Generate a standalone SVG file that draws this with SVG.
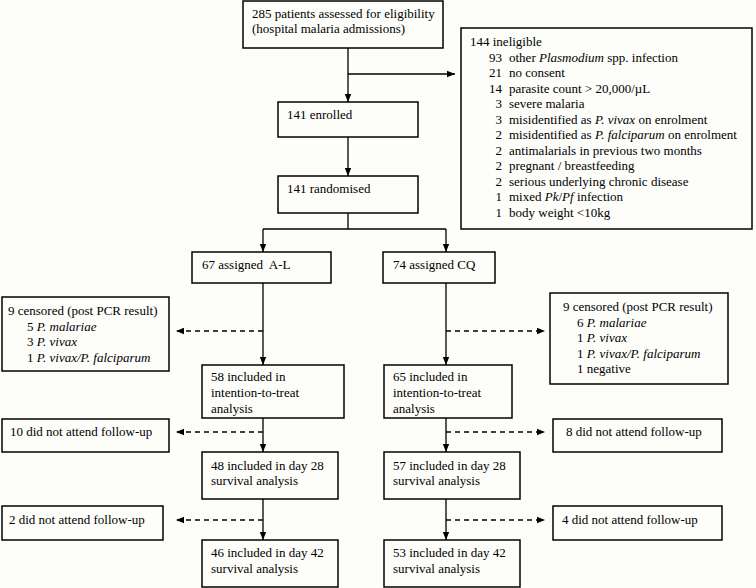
<svg xmlns="http://www.w3.org/2000/svg" width="756" height="588" viewBox="0 0 756 588">
<style>
.box{fill:none;stroke:#000;stroke-width:1.5}
.ln{fill:none;stroke:#000;stroke-width:1.3}
.dash{fill:none;stroke:#000;stroke-width:1.3;stroke-dasharray:5,4}
text{font-family:"Liberation Serif","Times New Roman",serif;font-size:13px;fill:#000}
.i{font-style:italic}
.num{text-anchor:end}
</style>
<defs>
<marker id="ah" markerUnits="userSpaceOnUse" markerWidth="8" markerHeight="8" viewBox="0 0 8 8" refX="8" refY="4" orient="auto">
<path d="M0,0.8 L8,4 L0,7.2 Z" fill="#000"/>
</marker>
</defs>
<rect x="0" y="0" width="756" height="588" fill="#fdfdfa"/>

<g id="connectors">
<path class="ln" d="M348,48 V102" marker-end="url(#ah)"/>
<path class="ln" d="M348,74 H455" marker-end="url(#ah)"/>
<path class="ln" d="M348,137 V176" marker-end="url(#ah)"/>
<path class="ln" d="M348,213 V229 M263,229 H446"/>
<path class="ln" d="M263,229 V252" marker-end="url(#ah)"/>
<path class="ln" d="M446,229 V252" marker-end="url(#ah)"/>
<path class="ln" d="M263,283 V365" marker-end="url(#ah)"/>
<path class="ln" d="M263,418 V452" marker-end="url(#ah)"/>
<path class="ln" d="M263,499 V540" marker-end="url(#ah)"/>
<path class="ln" d="M446,283 V365" marker-end="url(#ah)"/>
<path class="ln" d="M446,418 V452" marker-end="url(#ah)"/>
<path class="ln" d="M446,499 V540" marker-end="url(#ah)"/>
<path class="dash" d="M263,331 H176" marker-end="url(#ah)"/>
<path class="dash" d="M263,432 H176" marker-end="url(#ah)"/>
<path class="dash" d="M263,520 H176" marker-end="url(#ah)"/>
<path class="dash" d="M446,331 H545" marker-end="url(#ah)"/>
<path class="dash" d="M446,432 H545" marker-end="url(#ah)"/>
<path class="dash" d="M446,520 H545" marker-end="url(#ah)"/>
</g>

<g id="assessed">
<rect class="box" x="243" y="1" width="200" height="47"/>
<text x="252" y="18">285 patients assessed for eligibility</text>
<text x="252" y="33">(hospital malaria admissions)</text>
</g>

<g id="ineligible">
<rect class="box" x="461" y="28" width="291" height="201"/>
<text x="470" y="46">144 ineligible</text>
<text class="num" x="502" y="61.5">93</text><text x="509" y="61.5">other <tspan class="i">Plasmodium</tspan> spp. infection</text>
<text class="num" x="502" y="77">21</text><text x="509" y="77">no consent</text>
<text class="num" x="502" y="92.5">14</text><text x="509" y="92.5">parasite count &gt; 20,000/µL</text>
<text class="num" x="502" y="108">3</text><text x="509" y="108">severe malaria</text>
<text class="num" x="502" y="123.5">3</text><text x="509" y="123.5">misidentified as <tspan class="i">P. vivax</tspan> on enrolment</text>
<text class="num" x="502" y="139">2</text><text x="509" y="139">misidentified as <tspan class="i">P. falciparum</tspan> on enrolment</text>
<text class="num" x="502" y="154.5">2</text><text x="509" y="154.5">antimalarials in previous two months</text>
<text class="num" x="502" y="170">2</text><text x="509" y="170">pregnant / breastfeeding</text>
<text class="num" x="502" y="185.5">2</text><text x="509" y="185.5">serious underlying chronic disease</text>
<text class="num" x="502" y="201">1</text><text x="509" y="201">mixed <tspan class="i">Pk</tspan>/<tspan class="i">Pf</tspan> infection</text>
<text class="num" x="502" y="216.5">1</text><text x="509" y="216.5">body weight &lt;10kg</text>
</g>

<g id="enrolled">
<rect class="box" x="278" y="102" width="140" height="35"/>
<text x="287" y="119">141 enrolled</text>
</g>

<g id="randomised">
<rect class="box" x="278" y="176" width="140" height="37"/>
<text x="287" y="193">141 randomised</text>
</g>

<g id="assignedAL">
<rect class="box" x="192" y="252" width="139" height="31"/>
<text x="202" y="269" xml:space="preserve">67 assigned  A-L</text>
</g>

<g id="assignedCQ">
<rect class="box" x="383" y="252" width="112" height="31"/>
<text x="393" y="269">74 assigned CQ</text>
</g>

<g id="censoredAL">
<rect class="box" x="2" y="297" width="167" height="74"/>
<text x="8" y="315">9 censored (post PCR result)</text>
<text x="27" y="330.5">5 <tspan class="i">P. malariae</tspan></text>
<text x="27" y="346">3 <tspan class="i">P. vivax</tspan></text>
<text x="27" y="361.5">1 <tspan class="i">P. vivax/P. falciparum</tspan></text>
</g>

<g id="censoredCQ">
<rect class="box" x="550" y="293" width="178" height="91"/>
<text x="563" y="311">9 censored (post PCR result)</text>
<text x="577" y="326.5">6 <tspan class="i">P. malariae</tspan></text>
<text x="577" y="342">1 <tspan class="i">P. vivax</tspan></text>
<text x="577" y="357.5">1 <tspan class="i">P. vivax/P. falciparum</tspan></text>
<text x="577" y="373">1 negative</text>
</g>

<g id="ittAL">
<rect class="box" x="202" y="365" width="142" height="53"/>
<text x="211" y="381">58 included in</text>
<text x="211" y="397">intention-to-treat</text>
<text x="211" y="412.5">analysis</text>
</g>

<g id="ittCQ">
<rect class="box" x="384" y="365" width="128" height="53"/>
<text x="393" y="381">65 included in</text>
<text x="393" y="397">intention-to-treat</text>
<text x="393" y="412.5">analysis</text>
</g>

<g id="lostAL1">
<rect class="box" x="2" y="419" width="167" height="33"/>
<text x="10" y="436">10 did not attend follow-up</text>
</g>

<g id="lostCQ1">
<rect class="box" x="553" y="419" width="169" height="33"/>
<text x="566" y="436">8 did not attend follow-up</text>
</g>

<g id="d28AL">
<rect class="box" x="202" y="452" width="136" height="47"/>
<text x="211" y="469.5">48 included in day 28</text>
<text x="211" y="485">survival analysis</text>
</g>

<g id="d28CQ">
<rect class="box" x="384" y="452" width="136" height="47"/>
<text x="393" y="469.5">57 included in day 28</text>
<text x="393" y="485">survival analysis</text>
</g>

<g id="lostAL2">
<rect class="box" x="2" y="506" width="161" height="34"/>
<text x="9" y="523.5">2 did not attend follow-up</text>
</g>

<g id="lostCQ2">
<rect class="box" x="553" y="506" width="169" height="34"/>
<text x="562" y="523.5">4 did not attend follow-up</text>
</g>

<g id="d42AL">
<rect class="box" x="202" y="540" width="136" height="47"/>
<text x="211" y="557">46 included in day 42</text>
<text x="211" y="572.5">survival analysis</text>
</g>

<g id="d42CQ">
<rect class="box" x="384" y="540" width="136" height="47"/>
<text x="393" y="557">53 included in day 42</text>
<text x="393" y="572.5">survival analysis</text>
</g>
</svg>
